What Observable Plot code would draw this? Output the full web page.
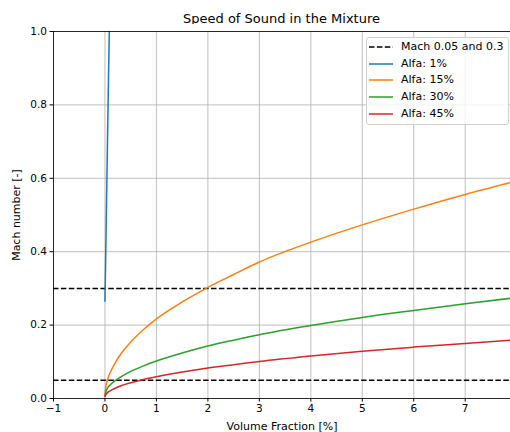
<!DOCTYPE html>
<html>
<head>
<meta charset="utf-8">
<script src="https://cdn.jsdelivr.net/npm/d3@7"></script>
<script src="https://cdn.jsdelivr.net/npm/@observablehq/plot@0.6"></script>
<style>
  body { margin: 0; background: #fff; font-family: "DejaVu Sans", sans-serif; }
  #wrap { position: relative; width: 510px; height: 432px; overflow: hidden; }
  #title { position: absolute; left: 53px; width: 457px; top: 11px; text-align: center; font-size: 13px; line-height: 15px; color: #000; }
  #chart { position: absolute; left: 0; top: 24px; }
  #legend { position: absolute; left: 366px; top: 37px; width: 143px; height: 88px; box-sizing: border-box;
            border: 1px solid #d0d0d0; border-radius: 3px; background: rgba(255,255,255,0.8); font-size: 11px; color: #000; }
  .row { position: absolute; left: 0; height: 12px; }
  .row svg { position: absolute; left: 2px; top: 0; }
  .row span { position: absolute; left: 34px; top: -1px; white-space: nowrap; line-height: 14px; }
  svg g[aria-label="x-axis label"] text, svg g[aria-label="y-axis label"] text { font-size: 11px; }
</style>
</head>
<body>
<div id="wrap">
  <div id="title">Speed of Sound in the Mixture</div>
  <div id="chart"></div>
  <div id="legend"></div>
</div>
<script>
// ---- data ----
const xTicks = [-1, 0, 1, 2, 3, 4, 5, 6, 7];
const yTicks = [0, 0.2, 0.4, 0.6, 0.8, 1.0];
const machLimits = [0.05, 0.3];

const volumeFraction = [0, 0.02, 0.05, 0.1, 0.2, 0.3, 0.5, 0.75, 1, 1.5, 2, 2.5, 3, 4, 5, 6, 7, 7.88];
const alfa15 = [0.008, 0.035, 0.052, 0.070, 0.098, 0.120, 0.154, 0.188, 0.217, 0.263, 0.303, 0.338, 0.372, 0.426, 0.473, 0.516, 0.556, 0.588];
const alfa30 = [0.008, 0.020, 0.028, 0.037, 0.049, 0.058, 0.074, 0.089, 0.102, 0.124, 0.143, 0.159, 0.174, 0.199, 0.221, 0.240, 0.258, 0.273];
const alfa45 = [0.005, 0.011, 0.016, 0.021, 0.028, 0.034, 0.043, 0.052, 0.059, 0.072, 0.083, 0.092, 0.101, 0.116, 0.129, 0.140, 0.150, 0.159];

const volumeFraction1 = [0, 0.02, 0.04, 0.06, 0.084];
const alfa1 = [0.265, 0.44, 0.62, 0.80, 1.0];

const seriesNames = ["Alfa: 1%", "Alfa: 15%", "Alfa: 30%", "Alfa: 45%"];
const seriesColors = ["#1f77b4", "#ff7f0e", "#2ca02c", "#d62728"];
const limitLabel = "Mach 0.05 and 0.3";

// ---- build tables ----
const rows = [];
volumeFraction1.forEach((x, i) => rows.push({x, y: alfa1[i], s: seriesNames[0]}));
[alfa15, alfa30, alfa45].forEach((arr, k) =>
  volumeFraction.forEach((x, i) => rows.push({x, y: arr[i], s: seriesNames[k + 1]})));

const minus = d => (d < 0 ? "\u2212" + (-d) : String(d));

const chart = Plot.plot({
  width: 510,
  height: 408,
  marginLeft: 53,
  marginRight: 0,
  marginTop: 7,
  marginBottom: 34,
  style: {fontFamily: "DejaVu Sans, sans-serif", fontSize: "10.5px", color: "#000", background: "#fff"},
  x: {domain: [-1, 7.88]},
  y: {domain: [0, 1]},
  color: {domain: seriesNames, range: seriesColors},
  marks: [
    Plot.gridX(xTicks, {stroke: "#b0b0b0", strokeOpacity: 1, strokeWidth: 0.8}),
    Plot.gridY(yTicks, {stroke: "#b0b0b0", strokeOpacity: 1, strokeWidth: 0.8}),
    Plot.ruleY(machLimits, {stroke: "#000", strokeWidth: 1.5, strokeDasharray: "5.5,2.4"}),
    Plot.line(rows, {x: "x", y: "y", z: "s", stroke: "s", strokeWidth: 1.5, curve: "monotone-x", clip: true}),
    Plot.ruleX([-1], {stroke: "#000", strokeWidth: 0.8}),
    Plot.ruleY([0, 1], {stroke: "#000", strokeWidth: 0.8}),
    Plot.axisX(xTicks, {tickSize: 3.5, tickPadding: 3, tickFormat: minus, fontSize: 10.5,
      label: "Volume Fraction [%]", labelAnchor: "center", labelArrow: "none", labelOffset: 31}),
    Plot.axisY(yTicks, {tickSize: 3.5, tickPadding: 3, tickFormat: d => d.toFixed(1), fontSize: 10.5,
      label: "Mach number [-]", labelAnchor: "center", labelArrow: "none", labelOffset: 41})
  ]
});
document.getElementById("chart").appendChild(chart);

// ---- legend ----
const legend = document.getElementById("legend");
const entries = [{label: limitLabel, color: "#000", dash: "5.5,2.4"}]
  .concat(seriesNames.map((n, i) => ({label: n, color: seriesColors[i], dash: null})));
entries.forEach((e, i) => {
  const row = document.createElement("div");
  row.className = "row";
  row.style.top = (3 + i * 16.7) + "px";
  row.style.width = "141px";
  row.innerHTML = `<svg width="30" height="12"><line x1="0" x2="24" y1="6" y2="6" stroke="${e.color}" stroke-width="1.5" ${e.dash ? `stroke-dasharray="${e.dash}"` : ""}/></svg><span>${e.label}</span>`;
  legend.appendChild(row);
});
</script>
</body>
</html>
